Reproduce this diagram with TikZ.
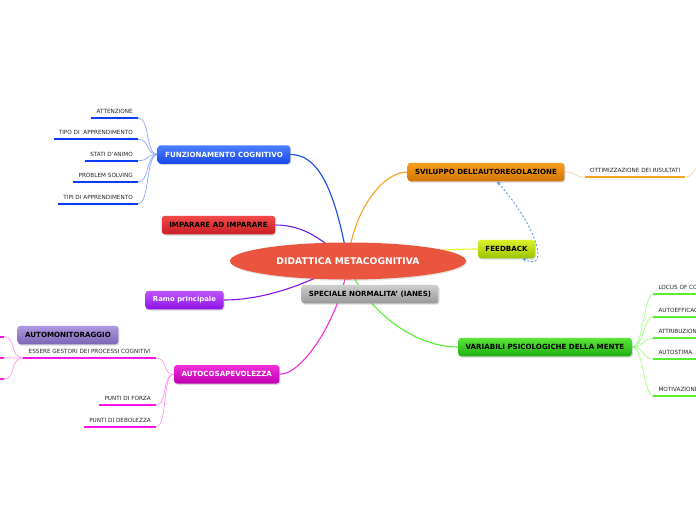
\documentclass[tikz,border=0pt]{standalone}
\usepackage{fontspec}
\setmainfont{DejaVu Sans}
\usepackage{tikz}
\usetikzlibrary{arrows.meta,shapes.geometric,shadows,backgrounds}
\definecolor{centrered}{HTML}{E9553F}
\definecolor{blueA}{HTML}{4A80FF}
\definecolor{blueB}{HTML}{1848E8}
\definecolor{redA}{HTML}{F24A4A}
\definecolor{redB}{HTML}{C81E24}
\definecolor{violA}{HTML}{BE55FF}
\definecolor{violB}{HTML}{8E12E6}
\definecolor{grayA}{HTML}{CFCFCF}
\definecolor{grayB}{HTML}{989898}
\definecolor{orangeA}{HTML}{F8A020}
\definecolor{orangeB}{HTML}{D07400}
\definecolor{limeA}{HTML}{DDF22A}
\definecolor{limeB}{HTML}{9CC400}
\definecolor{greenA}{HTML}{5CE63A}
\definecolor{greenB}{HTML}{1EAE10}
\definecolor{magA}{HTML}{F22EDC}
\definecolor{magB}{HTML}{BE00AE}
\definecolor{lilacA}{HTML}{AE9AE0}
\definecolor{lilacB}{HTML}{7C66B6}
\definecolor{blueleaf}{HTML}{0A3CFF}
\definecolor{bluetwig}{HTML}{8AA8FF}
\definecolor{orangeleaf}{HTML}{F7A21E}
\definecolor{orangetwig}{HTML}{FFD29A}
\definecolor{greenleaf}{HTML}{55F030}
\definecolor{greentwig}{HTML}{9CFF80}
\definecolor{pinkleaf}{HTML}{FF14E6}
\definecolor{pinktwig}{HTML}{FF96F2}
\definecolor{linkblue}{HTML}{5A9BE6}
\tikzset{
  topic/.style={rounded corners=3pt,minimum height=18.5pt,inner xsep=7.5pt,
                font=\fontsize{7.1}{8}\selectfont\bfseries,
                drop shadow={opacity=0.3,shadow xshift=1pt,shadow yshift=-1.3pt}},
  bluetopic/.style={topic,top color=blueA,bottom color=blueB,text=white},
  redtopic/.style={topic,top color=redA,bottom color=redB,text=black},
  violtopic/.style={topic,top color=violA,bottom color=violB,text=white},
  graytopic/.style={topic,top color=grayA,bottom color=grayB,text=black},
  orangetopic/.style={topic,top color=orangeA,bottom color=orangeB,text=black},
  limetopic/.style={topic,top color=limeA,bottom color=limeB,text=black},
  greentopic/.style={topic,top color=greenA,bottom color=greenB,text=black},
  magtopic/.style={topic,top color=magA,bottom color=magB,text=white},
  lilactopic/.style={topic,top color=lilacA,bottom color=lilacB,text=black},
  leaf/.style={font=\fontsize{5.7}{6}\selectfont,text=black!85,
               inner xsep=5pt,inner ysep=4.3pt},
  leafline/.style={line width=2pt},
  twig/.style={line width=0.7pt},
  trunk/.style={line width=1.1pt},
  dasharr/.style={{Stealth[length=4pt,width=4pt]}-{Stealth[length=4pt,width=4pt]},
                  dash pattern=on 2pt off 2pt,line width=0.9pt,color=linkblue}
}

\begin{document}
\begin{tikzpicture}[x=1pt,y=-1pt,>=Latex]
  \useasboundingbox (0,0) rectangle (696,520);

  % centre
  \node[ellipse,fill=centrered,minimum width=236pt,minimum height=37pt,
        text=white,font=\fontsize{9.2}{10}\selectfont\bfseries,
        drop shadow={opacity=0.2,shadow xshift=1pt,shadow yshift=-1.3pt}]
        (main) at (348,261) {DIDATTICA METACOGNITIVA};

  % main topics
  \node[bluetopic] (funz) at (224,154.5) {FUNZIONAMENTO COGNITIVO};
  \node[redtopic] (imp) at (218.5,225) {IMPARARE AD IMPARARE};
  \node[violtopic,font=\fontsize{6.9}{8}\selectfont\bfseries] (ramo) at (184.5,300) {Ramo principale};
  \node[graytopic] (spec) at (370,294) {SPECIALE NORMALITA' (IANES)};
  \node[orangetopic] (svil) at (486,172) {SVILUPPO DELL'AUTOREGOLAZIONE};
  \node[limetopic] (fb) at (506.5,249) {FEEDBACK};
  \node[greentopic] (var) at (545,347) {VARIABILI PSICOLOGICHE DELLA MENTE};
  \node[magtopic] (autoc) at (226.7,374.3) {AUTOCOSAPEVOLEZZA};
  \node[lilactopic] (automon) at (68,335) {AUTOMONITORAGGIO};

  % leaves of funzionamento cognitivo
  \node[leaf,anchor=south east] (att) at (138,117.7) {ATTENZIONE};
  \node[leaf,anchor=south east] (tipoapp) at (138,139.3) {TIPO DI \ APPRENDIMENTO};
  \node[leaf,anchor=south east] (stati) at (138,160.7) {STATI D'ANIMO};
  \node[leaf,anchor=south east] (probsol) at (138,182) {PROBLEM SOLVING};
  \node[leaf,anchor=south east] (tipiapp) at (138,203.7) {TIPI DI APPRENDIMENTO};
  \foreach \lf in {att,tipoapp,stati,probsol,tipiapp}
    \draw[leafline,blueleaf] (\lf.south west) -- (\lf.south east);

  % leaf of sviluppo
  \node[leaf,anchor=south west] (ottim) at (585,177.3) {OTTIMIZZAZIONE DEI RISULTATI};
  \draw[leafline,orangeleaf] (ottim.south west) -- (ottim.south east);
  \coordinate (offott) at (702,164);

  % leaves of variabili
  \node[leaf,anchor=south west] (locus) at (653.3,294.3) {LOCUS OF CONTROL};
  \node[leaf,anchor=south west] (autoeff) at (653.3,316.7) {AUTOEFFICACIA};
  \node[leaf,anchor=south west] (attrib) at (653.3,338.3) {ATTRIBUZIONI};
  \node[leaf,anchor=south west] (autost) at (653.3,359.3) {AUTOSTIMA};
  \node[leaf,anchor=south west] (motiv) at (653.3,395.7) {MOTIVAZIONE};
  \foreach \lf in {locus,autoeff,attrib,autost,motiv}
    \draw[leafline,greenleaf] (\lf.south west) -- ([xshift=40pt]\lf.south east);

  % leaves of autocosapevolezza
  \node[leaf,anchor=south east] (gestori) at (156,358) {ESSERE GESTORI DEI PROCESSI COGNITIVI};
  \node[leaf,anchor=south east] (forza) at (156,405) {PUNTI DI FORZA};
  \node[leaf,anchor=south east] (debol) at (156,426.7) {PUNTI DI DEBOLEZZA};
  \foreach \lf in {gestori,forza,debol}
    \draw[leafline,pinkleaf] (\lf.south west) -- (\lf.south east);
  \coordinate (offg1) at (4,336.5);
  \coordinate (offg2) at (4,357.8);
  \coordinate (offg3) at (4,379.2);
  \foreach \c in {offg1,offg2,offg3}
    \draw[leafline,pinkleaf] (\c) -- +(-10,0);

  % feedback loop
  \draw[dasharr] ([xshift=11pt]svil.south) .. controls +(40,45) and +(28,14) .. ([xshift=16pt]fb.south);

  \begin{pgfonlayer}{background}
    \fill[white] (0,0) rectangle (696,520);
    % branches to the centre
    \draw[trunk,color=blueB] (funz.east) .. controls +(35,0) and +(-10,-50) .. (main.center);
    \draw[trunk,color=violB!70!blueB] (imp.east) .. controls +(30,0) and +(-25,-20) .. (main.center);
    \draw[trunk,color=violB] (ramo.east) .. controls +(50,0) and +(-25,15) .. (main.center);
    \draw[trunk,color=orangeA] (svil.west) .. controls +(-25,0) and +(5,-50) .. (main.center);
    \draw[trunk,color=limeA!80!yellow] (fb.west) .. controls +(-25,0) and +(60,-10) .. (main.center);
    \draw[trunk,color=greenleaf] (var.west) .. controls +(-50,0) and +(10,40) .. (main.center);
    \draw[trunk,color=magA] (autoc.east) .. controls +(25,0) and +(-5,50) .. (main.center);
    % twigs
    \foreach \lf in {att,tipoapp,stati,probsol,tipiapp}
      \draw[twig,bluetwig] (funz.west) .. controls +(-12,0) and +(12,0) .. (\lf.south east);
    \draw[twig,orangetwig] (svil.east) .. controls +(12,0) and +(-10,0) .. (ottim.south west);
    \draw[twig,orangetwig] (ottim.south east) .. controls +(8,0) and +(-6,0) .. (offott);
    \foreach \lf in {locus,autoeff,attrib,autost,motiv}
      \draw[twig,greentwig] (var.east) .. controls +(12,0) and +(-10,0) .. (\lf.south west);
    \foreach \lf in {gestori,forza,debol}
      \draw[twig,pinktwig] (autoc.west) .. controls +(-12,0) and +(12,0) .. (\lf.south east);
    \foreach \c in {offg1,offg2,offg3}
      \draw[twig,pinktwig] (gestori.south west) .. controls +(-14,0) and +(12,0) .. (\c);
  \end{pgfonlayer}
\end{tikzpicture}
\end{document}
